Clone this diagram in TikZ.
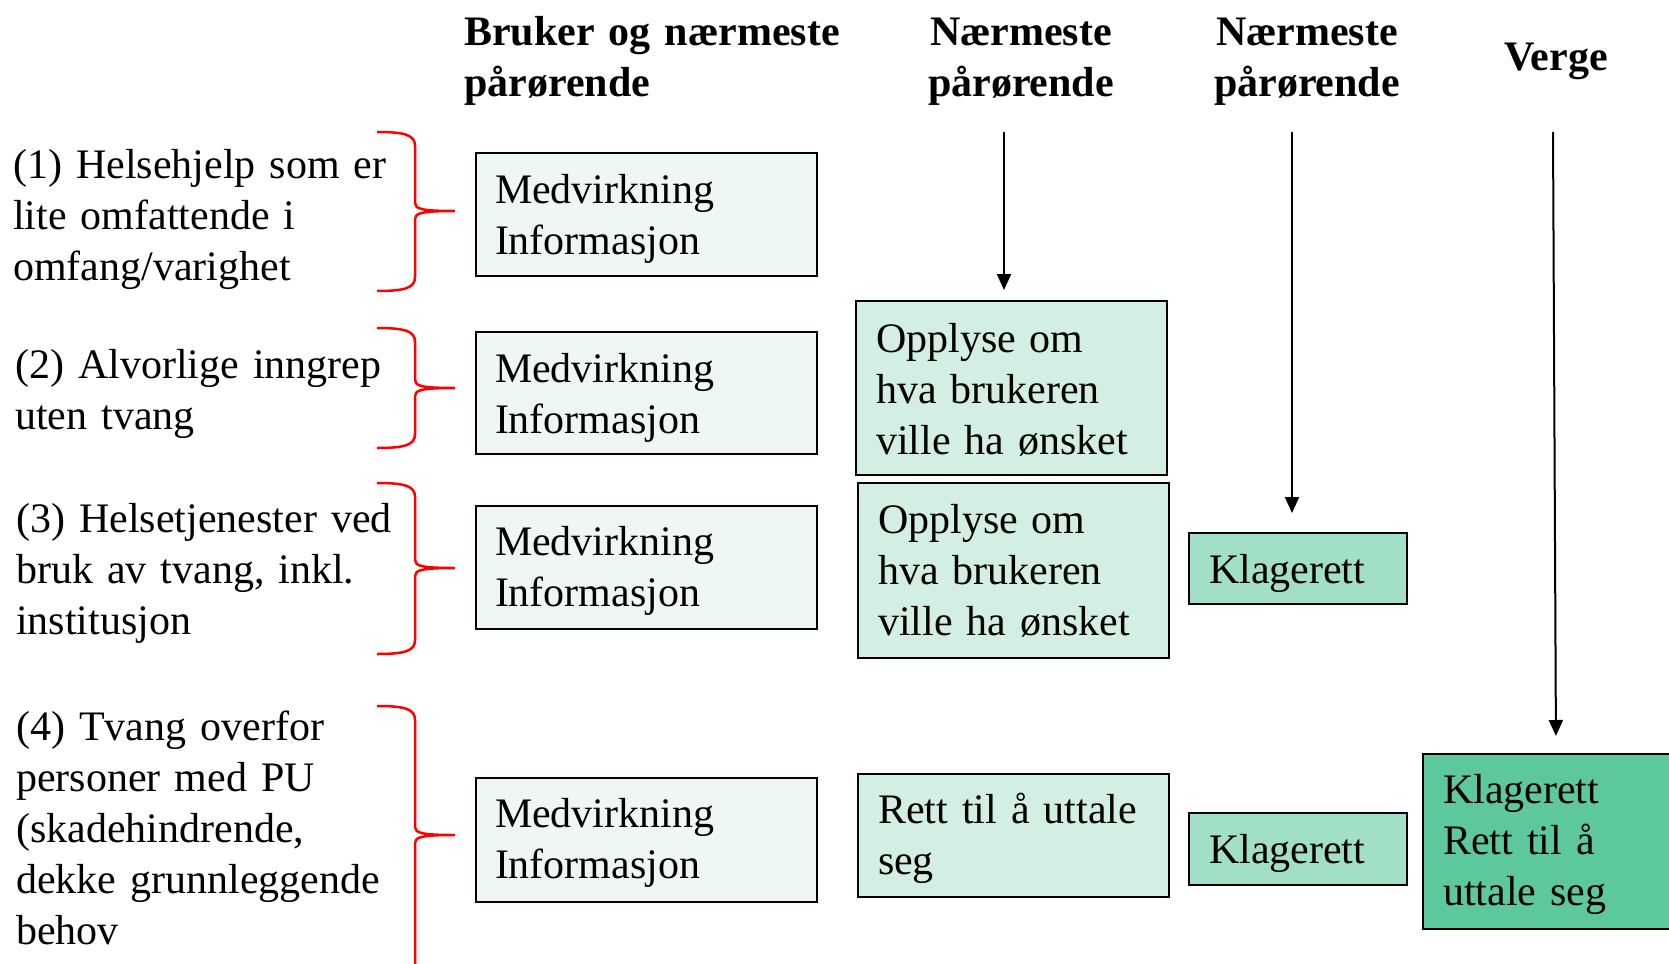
\documentclass[tikz,border=0pt]{standalone}
\usepackage{fontspec}
\setmainfont[WordSpace=0.85]{Liberation Serif}
\usetikzlibrary{arrows.meta,calc}
\definecolor{medfill}{RGB}{238,247,241}
\definecolor{opfill}{RGB}{211,238,226}
\definecolor{klfill}{RGB}{161,224,198}
\definecolor{vgfill}{RGB}{93,200,155}
\definecolor{bracered}{RGB}{255,0,0}
\newcommand\bigtxt{\fontsize{42}{51}\selectfont}
\newcommand\redbrace[3]{%
  \draw[bracestyle] (377,#1) .. controls (405,#1) and (415,#1+3) .. (415,#1+14)
    -- (415,#2-8) .. controls (415,#2-2) and (422,#2) .. (455,#2)
    .. controls (422,#2) and (415,#2+2) .. (415,#2+8)
    -- (415,#3-14) .. controls (415,#3-3) and (405,#3) .. (377,#3);}
\begin{document}
\begin{tikzpicture}[x=1pt,y=-1pt,
  cbox/.style={draw=black, line width=2pt, inner xsep=19pt, inner ysep=0pt,
    outer sep=0pt, anchor=north west, align=left, font=\bigtxt},
  lefttxt/.style={inner sep=0pt, anchor=base west, text width=420pt, align=left, font=\bigtxt},
  head/.style={inner sep=0pt, anchor=base, text width=280pt, align=center, font=\bigtxt\bfseries},
  arr/.style={line width=2pt, -{Triangle[length=16pt,width=14pt]}},
  bracestyle/.style={draw=bracered, line width=2.5pt}]
\useasboundingbox (0,0) rectangle (1669,963);

% headers
\node[inner sep=0pt, anchor=base west, text width=420pt, align=left, font=\bigtxt\bfseries] (h1) at (464,46) {Bruker og nærmeste\\pårørende};
\node[head] (h2) at (1021,46) {Nærmeste\\pårørende};
\node[head] (h3) at (1307,46) {Nærmeste\\pårørende};
\node[head] (h4) at (1556,71) {Verge};

% left texts
\node[lefttxt] (t1) at (13,178) {(1) Helsehjelp som er\\lite omfattende i\\omfang/varighet};
\node[lefttxt] (t2) at (15,378) {(2) Alvorlige inngrep\\uten tvang};
\node[lefttxt] (t3) at (16,532) {(3) Helsetjenester ved\\bruk av tvang, inkl.\\institusjon};
\node[lefttxt] (t4) at (16,740) {(4) Tvang overfor\\personer med PU\\(skadehindrende,\\dekke grunnleggende\\behov};

% braces
\redbrace{132}{211}{291}
\redbrace{328}{388}{448}
\redbrace{483}{568}{654}
\redbrace{706}{835}{985}

% boxes
\node[cbox, fill=medfill, text width=303pt, text height=50pt, text depth=73pt] (m1) at (476,153) {Medvirkning\\Informasjon};
\node[cbox, fill=medfill, text width=303pt, text height=50pt, text depth=72pt] (m2) at (476,332) {Medvirkning\\Informasjon};
\node[cbox, fill=medfill, text width=303pt, text height=49pt, text depth=74pt] (m3) at (476,506) {Medvirkning\\Informasjon};
\node[cbox, fill=medfill, text width=303pt, text height=49pt, text depth=75pt] (m4) at (476,778) {Medvirkning\\Informasjon};

\node[cbox, fill=opfill, inner xsep=20pt, text width=271pt, text height=51pt, text depth=123pt] (op1) at (856,301) {Opplyse om\\hva brukeren\\ville ha ønsket};
\node[cbox, fill=opfill, inner xsep=20pt, text width=271pt, text height=50pt, text depth=125pt] (op2) at (858,483) {Opplyse om\\hva brukeren\\ville ha ønsket};
\node[cbox, fill=opfill, inner xsep=20pt, text width=271pt, text height=49pt, text depth=74pt] (rt) at (858,774) {Rett til å uttale\\seg};

\node[cbox, fill=klfill, inner xsep=20pt, text width=178pt, text height=50pt, text depth=21pt] (kl1) at (1189,533) {Klagerett};
\node[cbox, fill=klfill, inner xsep=20pt, text width=178pt, text height=50pt, text depth=22pt] (kl2) at (1189,813) {Klagerett};

\node[cbox, fill=vgfill, inner xsep=20pt, text width=220pt, text height=49pt, text depth=126pt] (vg) at (1423,754) {Klagerett\\Rett til å\\uttale seg};

% arrows
\coordinate (a2s) at (1004,132);
\coordinate (a3s) at (1292,132);
\coordinate (a4s) at (1553,132);
\draw[arr, shorten >=11pt] (a2s) -- (a2s |- op1.north);
\draw[arr, shorten >=20pt] (a3s) -- (a3s |- kl1.north);
\draw[arr, shorten >=18pt] (a4s) -- ($(a4s |- vg.north)+(3,0)$);
\end{tikzpicture}
\end{document}
